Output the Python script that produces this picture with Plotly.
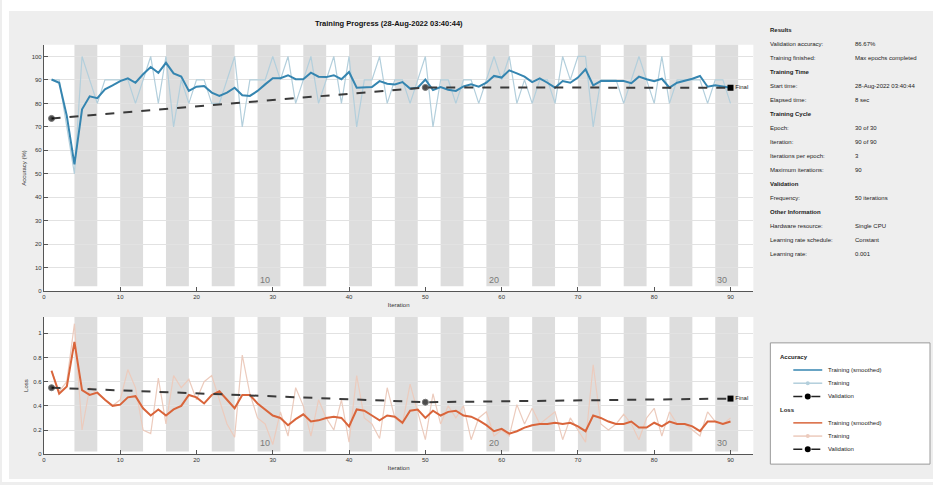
import plotly.graph_objects as go

W, H = 933, 485

iterations = list(range(1, 91))

acc_smooth = [90.2, 88.8, 74.7, 54.0, 77.5, 83.0, 82.2, 86.0, 87.7, 89.5,
              90.7, 88.8, 92.4, 95.5, 93.0, 97.3, 92.8, 91.4, 85.3, 87.1,
              87.4, 84.6, 83.2, 84.6, 86.7, 83.5, 83.2, 85.3, 88.1, 90.7,
              90.7, 92.0, 90.3, 90.3, 93.1, 91.4, 91.2, 92.0, 90.3, 93.4,
              86.7, 86.7, 87.0, 89.5, 88.4, 88.1, 89.1, 86.3, 86.7, 90.2,
              85.7, 87.0, 85.8, 85.3, 87.2, 88.1, 87.1, 88.8, 91.7, 91.0,
              94.1, 92.8, 91.4, 89.1, 90.7, 88.8, 86.7, 89.5, 88.8, 91.0,
              94.5, 87.7, 89.5, 89.5, 89.5, 89.5, 88.6, 91.4, 90.3, 89.5,
              90.5, 86.7, 88.8, 89.5, 90.5, 91.7, 87.1, 87.7, 87.1, 86.7]

acc_raw = [90, 90, 70, 50, 100, 90, 80, 90, 90, 90,
           90, 80, 90, 100, 80, 100, 70, 90, 80, 90,
           90, 80, 80, 90, 100, 70, 90, 90, 90, 100,
           90, 100, 80, 90, 100, 80, 90, 100, 80, 100,
           70, 90, 90, 100, 80, 90, 90, 80, 90, 100,
           70, 90, 90, 80, 90, 90, 80, 90, 100, 90,
           100, 80, 90, 80, 90, 90, 80, 100, 90, 100,
           100, 70, 90, 90, 90, 80, 90, 100, 90, 80,
           100, 80, 90, 90, 90, 90, 80, 90, 90, 80]

loss_smooth = [0.69, 0.50, 0.56, 0.93, 0.53, 0.49, 0.51, 0.45, 0.40, 0.41,
               0.47, 0.48, 0.38, 0.32, 0.37, 0.32, 0.37, 0.40, 0.49, 0.47,
               0.42, 0.49, 0.52, 0.45, 0.38, 0.49, 0.49, 0.42, 0.37, 0.32,
               0.30, 0.24, 0.29, 0.33, 0.27, 0.28, 0.30, 0.31, 0.30, 0.23,
               0.37, 0.36, 0.32, 0.28, 0.32, 0.31, 0.26, 0.36, 0.37, 0.30,
               0.36, 0.32, 0.35, 0.36, 0.32, 0.31, 0.28, 0.24, 0.19, 0.21,
               0.17, 0.19, 0.22, 0.24, 0.25, 0.25, 0.26, 0.25, 0.26, 0.23,
               0.19, 0.32, 0.30, 0.27, 0.25, 0.25, 0.27, 0.22, 0.22, 0.26,
               0.23, 0.27, 0.25, 0.25, 0.23, 0.19, 0.27, 0.27, 0.25, 0.27]

loss_raw = [0.69, 0.52, 0.60, 1.08, 0.20, 0.55, 0.50, 0.45, 0.40, 0.45,
            0.70, 0.55, 0.20, 0.17, 0.63, 0.25, 0.65, 0.55, 0.62, 0.45,
            0.60, 0.65, 0.45, 0.25, 0.14, 0.82, 0.50, 0.30, 0.25, 0.08,
            0.35, 0.15, 0.55, 0.40, 0.15, 0.45, 0.30, 0.20, 0.45, 0.10,
            0.65, 0.30, 0.25, 0.13, 0.55, 0.30, 0.25, 0.58, 0.35, 0.12,
            0.50, 0.25, 0.40, 0.30, 0.40, 0.12, 0.30, 0.35, 0.15, 0.20,
            0.15, 0.41, 0.25, 0.38, 0.25, 0.30, 0.35, 0.12, 0.30, 0.20,
            0.10, 0.74, 0.25, 0.20, 0.25, 0.33, 0.25, 0.12, 0.30, 0.38,
            0.15, 0.35, 0.25, 0.25, 0.20, 0.15, 0.35, 0.27, 0.25, 0.30]

val_iters = [1, 50, 90]
val_acc = [73.6, 86.8, 86.67]
val_loss = [0.55, 0.43, 0.46]
final_iter = [90]
final_acc = [86.67]
final_loss = [0.46]

n_epochs = 30
iters_per_epoch = 3
epoch_label_iters = [30, 60, 90]
epoch_labels = ["10", "20", "30"]

iter_ticks = [0, 10, 20, 30, 40, 50, 60, 70, 80, 90]
acc_ticks = [0, 10, 20, 30, 40, 50, 60, 70, 80, 90, 100]
loss_ticks = [0, 0.2, 0.4, 0.6, 0.8, 1.0]
loss_tick_text = ["0", "0.2", "0.4", "0.6", "0.8", "1"]

title_text = "Training Progress (28-Aug-2022 03:40:44)"

info_rows = [
    ("Results", None),
    ("Validation accuracy:", "86.67%"),
    ("Training finished:", "Max epochs completed"),
    ("Training Time", None),
    ("Start time:", "28-Aug-2022 03:40:44"),
    ("Elapsed time:", "8 sec"),
    ("Training Cycle", None),
    ("Epoch:", "30 of 30"),
    ("Iteration:", "90 of 90"),
    ("Iterations per epoch:", "3"),
    ("Maximum iterations:", "90"),
    ("Validation", None),
    ("Frequency:", "50 iterations"),
    ("Other Information", None),
    ("Hardware resource:", "Single CPU"),
    ("Learning rate schedule:", "Constant"),
    ("Learning rate:", "0.001"),
]

legend_rows = [
    ("Accuracy", None),
    ("Training (smoothed)", "acc_s"),
    ("Training", "acc_r"),
    ("Validation", "val"),
    ("Loss", None),
    ("Training (smoothed)", "loss_s"),
    ("Training", "loss_r"),
    ("Validation", "val"),
]

# ---- styles ----
FONT = "Liberation Sans, Arial, sans-serif"
BG = "#eeeeee"
BAND = "#dddddd"
GRID = "#e2e2e2"
C_ACC = "#3585b0"
C_ACC_RAW = "#b3cfdc"
C_LOSS = "#d9653b"
C_LOSS_RAW = "#eccbbd"
C_VAL = "#3a3a3a"


def px(x):
    return x / W


def py(y):
    return 1 - y / H


fig = go.Figure()

# accuracy
fig.add_trace(go.Scatter(x=iterations, y=acc_raw, mode="lines",
                         line=dict(color=C_ACC_RAW, width=1.2), xaxis="x", yaxis="y",
                         showlegend=False))
fig.add_trace(go.Scatter(x=iterations, y=acc_smooth, mode="lines",
                         line=dict(color=C_ACC, width=2), xaxis="x", yaxis="y",
                         showlegend=False))
fig.add_trace(go.Scatter(x=val_iters, y=val_acc, mode="lines+markers",
                         line=dict(color=C_VAL, width=2, dash="dash"),
                         marker=dict(color="black", size=[6, 6, 0]),
                         xaxis="x", yaxis="y", showlegend=False))
fig.add_trace(go.Scatter(x=final_iter, y=final_acc, mode="markers+text",
                         marker=dict(color="black", size=6, symbol="square"),
                         text=["Final"], textposition="middle right",
                         textfont=dict(size=6, color="#222", family=FONT),
                         xaxis="x", yaxis="y", showlegend=False, cliponaxis=False))

# loss
fig.add_trace(go.Scatter(x=iterations, y=loss_raw, mode="lines",
                         line=dict(color=C_LOSS_RAW, width=1.2), xaxis="x2", yaxis="y2",
                         showlegend=False))
fig.add_trace(go.Scatter(x=iterations, y=loss_smooth, mode="lines",
                         line=dict(color=C_LOSS, width=2), xaxis="x2", yaxis="y2",
                         showlegend=False))
fig.add_trace(go.Scatter(x=val_iters, y=val_loss, mode="lines+markers",
                         line=dict(color=C_VAL, width=2, dash="dash"),
                         marker=dict(color="black", size=[6, 6, 0]),
                         xaxis="x2", yaxis="y2", showlegend=False))
fig.add_trace(go.Scatter(x=final_iter, y=final_loss, mode="markers+text",
                         marker=dict(color="black", size=6, symbol="square"),
                         text=["Final"], textposition="middle right",
                         textfont=dict(size=6, color="#222", family=FONT),
                         xaxis="x2", yaxis="y2", showlegend=False, cliponaxis=False))

shapes = []
# white frame around the window
shapes.append(dict(type="rect", xref="paper", yref="paper", x0=0, x1=1, y0=py(11), y1=1,
                   fillcolor="white", line=dict(width=0), layer="below"))
shapes.append(dict(type="rect", xref="paper", yref="paper", x0=0, x1=px(7), y0=0, y1=1,
                   fillcolor="white", line=dict(width=0), layer="below"))
shapes.append(dict(type="rect", xref="paper", yref="paper", x0=0, x1=1, y0=0, y1=py(482),
                   fillcolor="white", line=dict(width=0), layer="below"))

# epoch bands
for ep in range(2, n_epochs + 1, 2):
    x0 = (ep - 1) * iters_per_epoch + 1
    x1 = ep * iters_per_epoch + 1
    for xr, yr in (("x", "y domain"), ("x2", "y2 domain")):
        shapes.append(dict(type="rect", xref=xr, yref=yr, x0=x0, x1=x1, y0=0.02, y1=1,
                           fillcolor=BAND, line=dict(width=0), layer="below"))

annotations = []
annotations.append(dict(text="<b>" + title_text + "</b>", x=px(388), y=py(24), xref="paper",
                        yref="paper", showarrow=False, xanchor="center", yanchor="middle",
                        font=dict(size=7.5, color="#111", family=FONT)))

for xr, yr in (("x", "y domain"), ("x2", "y2 domain")):
    for it, lab in zip(epoch_label_iters, epoch_labels):
        annotations.append(dict(text=lab, x=it, y=0, xref=xr, yref=yr, showarrow=False,
                                xanchor="right", yanchor="bottom", xshift=-1, yshift=4,
                                font=dict(size=9, color="#7a7a7a", family=FONT)))

# info panel
y0_info, dy_info = 30, 14.1
for k, (lab, val) in enumerate(info_rows):
    yy = y0_info + k * dy_info
    bold = val is None
    annotations.append(dict(text=("<b>%s</b>" % lab) if bold else lab, x=px(768), y=py(yy),
                            xref="paper", yref="paper", showarrow=False, xanchor="left",
                            yanchor="middle", font=dict(size=6, color="#222", family=FONT)))
    if val is not None:
        annotations.append(dict(text=val, x=px(853), y=py(yy), xref="paper", yref="paper",
                                showarrow=False, xanchor="left", yanchor="middle",
                                font=dict(size=6, color="#222", family=FONT)))

# legend box
shapes.append(dict(type="rect", xref="paper", yref="paper", x0=px(770), x1=px(930),
                   y0=py(467), y1=py(345), fillcolor="white",
                   line=dict(color="#9a9a9a", width=1), layer="above"))
style = {
    "acc_s": (C_ACC, "solid", False),
    "acc_r": (C_ACC_RAW, "solid", True),
    "loss_s": (C_LOSS, "solid", False),
    "loss_r": (C_LOSS_RAW, "solid", True),
    "val": ("#222222", "dash", True),
}
y0_leg, dy_leg = 359, 13.3
for k, (lab, key) in enumerate(legend_rows):
    yy = y0_leg + k * dy_leg
    if key is None:
        annotations.append(dict(text="<b>%s</b>" % lab, x=px(778), y=py(yy), xref="paper",
                                yref="paper", showarrow=False, xanchor="left", yanchor="middle",
                                font=dict(size=6, color="#222", family=FONT)))
        continue
    col, dash, dot = style[key]
    shapes.append(dict(type="line", xref="paper", yref="paper", x0=px(793), x1=px(822),
                       y0=py(yy), y1=py(yy), line=dict(color=col, width=1.5, dash=dash),
                       layer="above"))
    if dot:
        r = 3 if key == "val" else 2
        shapes.append(dict(type="circle", xref="paper", yref="paper",
                           x0=px(807.5 - r), x1=px(807.5 + r), y0=py(yy + r), y1=py(yy - r),
                           fillcolor="black" if key == "val" else col,
                           line=dict(width=0), layer="above"))
    annotations.append(dict(text=lab, x=px(826), y=py(yy), xref="paper", yref="paper",
                            showarrow=False, xanchor="left", yanchor="middle",
                            font=dict(size=6, color="#222", family=FONT)))

axis_common = dict(showline=True, linecolor="#555", linewidth=1, ticks="inside",
                   ticklen=4, tickcolor="#555", tickfont=dict(size=6, color="#333", family=FONT),
                   zeroline=False, mirror=False)

fig.update_layout(
    width=W, height=H,
    margin=dict(l=0, r=0, t=0, b=0),
    paper_bgcolor=BG, plot_bgcolor="white",
    showlegend=False,
    xaxis=dict(domain=[px(42), px(753)], range=[0, 93], anchor="y", tickvals=iter_ticks,
               showgrid=False, title=dict(text="Iteration", standoff=3,
                                          font=dict(size=6, color="#333", family=FONT)),
               **axis_common),
    yaxis=dict(domain=[py(293), py(45)], range=[0, 105], anchor="x", tickvals=acc_ticks,
               showgrid=True, gridcolor=GRID, gridwidth=1,
               title=dict(text="Accuracy (%)", standoff=4,
                          font=dict(size=6, color="#333", family=FONT)),
               **axis_common),
    xaxis2=dict(domain=[px(42), px(753)], range=[0, 93], anchor="y2", tickvals=iter_ticks,
                showgrid=False, title=dict(text="Iteration", standoff=3,
                                           font=dict(size=6, color="#333", family=FONT)),
                **axis_common),
    yaxis2=dict(domain=[py(457), py(319)], range=[0, 1.135], anchor="x2", tickvals=loss_ticks,
                ticktext=loss_tick_text, showgrid=True, gridcolor=GRID, gridwidth=1,
                title=dict(text="Loss", standoff=4,
                           font=dict(size=6, color="#333", family=FONT)),
                **axis_common),
    shapes=shapes,
    annotations=annotations,
)

fig.write_html("out.html", config={"displayModeBar": False},
               post_script="document.body.style.margin='0';document.body.style.overflow='hidden';")
